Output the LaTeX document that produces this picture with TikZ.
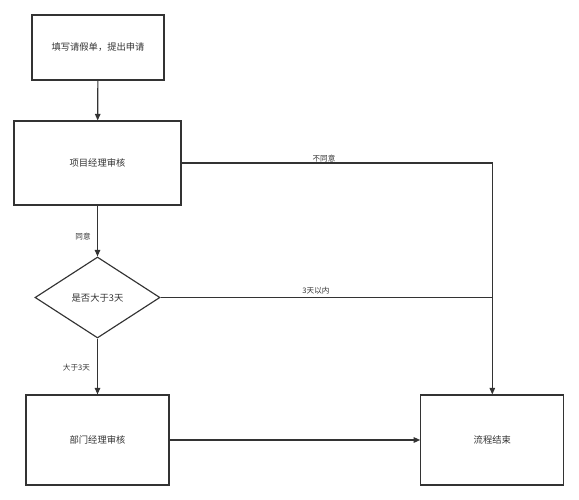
\documentclass[tikz,border=0pt]{standalone}
\usepackage{fontspec}
\setmainfont{Noto Sans CJK SC}
\usetikzlibrary{arrows.meta,shapes.geometric}
\definecolor{ln}{HTML}{333333}
\definecolor{tx}{HTML}{333333}
\begin{document}
\begin{tikzpicture}[x=1pt,y=-1pt,
  box/.style={draw=ln,line width=1.15pt,rectangle,inner sep=0pt,text=tx,font=\fontsize{9.3}{11}\selectfont},
  lbl/.style={inner sep=0pt,text=tx,font=\fontsize{7.6}{9}\selectfont},
  conn/.style={draw=ln,line width=1.15pt},
  arr/.style={conn,-{Triangle[length=6.5pt,width=5.5pt]}}]
\useasboundingbox (0,0) rectangle (579,500);
\node[box,minimum width=132pt,minimum height=65pt] (a) at (98,47.5) {填写请假单，提出申请};
\node[box,minimum width=167pt,minimum height=84pt] (b) at (97.5,163) {项目经理审核};
\node[box,diamond,aspect=1.543,minimum width=125pt,minimum height=81pt] (c) at (97.5,297.5) {是否大于3天};
\node[box,minimum width=143pt,minimum height=90pt] (d) at (97.5,440) {部门经理审核};
\node[box,minimum width=143pt,minimum height=90pt] (e) at (492.3,440) {流程结束};
\coordinate (j) at (492.3,297.5);
\draw[arr] (a) -- (b);
\draw[arr] (b) -- (c);
\draw[arr] (c) -- (d);
\draw[arr] (d) -- (e);
\draw[arr] (b.east) -| (e.north);
\draw[conn] (c.east) -- (j);
\node[lbl] (l1) at (83,237) {同意};
\node[lbl] (l2) at (76.5,368) {大于3天};
\node[lbl] (l3) at (324,158.5) {不同意};
\node[lbl] (l4) at (316,290.5) {3天以内};
\end{tikzpicture}
\end{document}
